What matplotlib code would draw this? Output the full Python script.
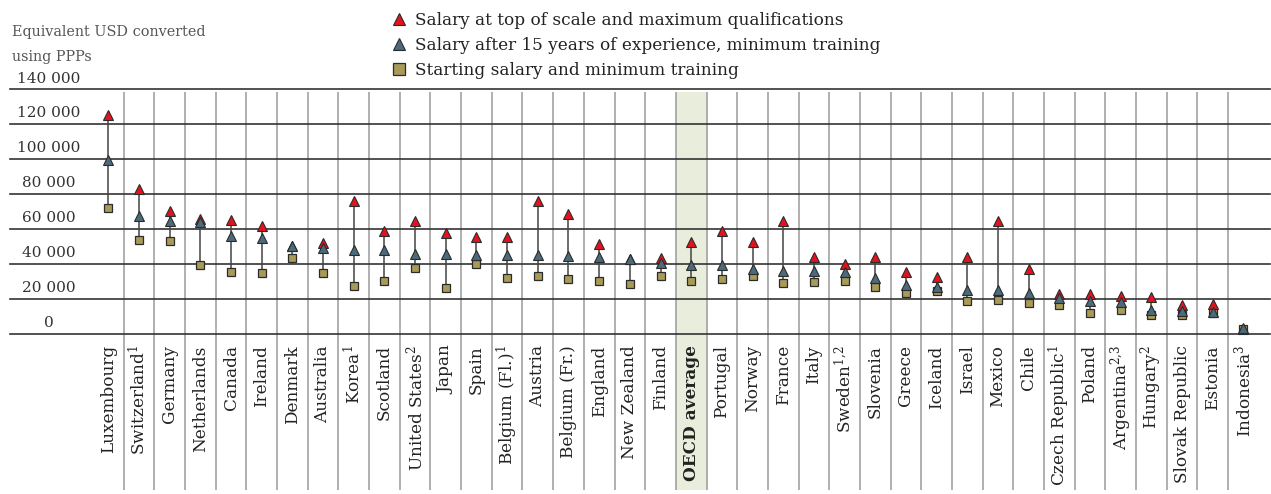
import matplotlib
matplotlib.use("Agg")
import matplotlib.pyplot as plt
from matplotlib.lines import Line2D
import numpy as np

plt.rcParams['font.family'] = ['DejaVu Serif']
plt.rcParams['mathtext.fontset'] = 'dejavuserif'

countries = ["Luxembourg", "Switzerland$^{1}$", "Germany", "Netherlands", "Canada", "Ireland",
             "Denmark", "Australia", "Korea$^{1}$", "Scotland", "United States$^{2}$", "Japan",
             "Spain", "Belgium (Fl.)$^{1}$", "Austria", "Belgium (Fr.)", "England", "New Zealand",
             "Finland", "OECD average", "Portugal", "Norway", "France", "Italy", "Sweden$^{1{,}2}$",
             "Slovenia", "Greece", "Iceland", "Israel", "Mexico", "Chile", "Czech Republic$^{1}$",
             "Poland", "Argentina$^{2{,}3}$", "Hungary$^{2}$", "Slovak Republic", "Estonia",
             "Indonesia$^{3}$"]

top_salary = [125300, 82700, 70200, 65800, 65000, 61800, 50000, 51900, 75900, 58600, 64500, 57400,
              55300, 55300, 75900, 68700, 51300, 43000, 43300, 52500, 58600, 52500, 64700, 43900,
              40100, 43900, 35100, 32500, 43700, 64300, 36900, 22600, 22700, 21800, 20900, 16400,
              16900, 2900]
exp15_salary = [99500, 67500, 64300, 63700, 56100, 54800, 50200, 49000, 47900, 47900, 45600, 45400,
                45200, 45000, 44900, 44300, 43900, 42700, 40700, 39500, 39100, 37200, 35700, 35700,
                35100, 31900, 28100, 26800, 24900, 24900, 23300, 20300, 18900, 18200, 13400, 13100,
                12500, 3000]
start_salary = [72000, 53400, 52900, 39100, 35500, 34600, 43500, 34800, 27500, 30200, 37600, 26200,
                39700, 32100, 33000, 31500, 30400, 28500, 33200, 30400, 31100, 33200, 28900, 29400,
                30400, 26800, 23000, 24300, 18900, 19500, 17800, 16600, 11900, 13600, 10600, 10700,
                11700, 2700]

yticks = [0, 20000, 40000, 60000, 80000, 100000, 120000, 140000]
ytick_labels = ["0", "20 000", "40 000", "60 000", "80 000", "100 000", "120 000", "140 000"]

y_title_lines = ["Equivalent USD converted", "using PPPs"]

legend_labels = ["Salary at top of scale and maximum qualifications",
                 "Salary after 15 years of experience, minimum training",
                 "Starting salary and minimum training"]

RED = "#e3131d"
BLUE = "#4b6a7c"
OLIVE = "#a89a58"
EDGE = "#2b2b2b"

W, H = 1271, 494
fig = plt.figure(figsize=(W / 100, H / 100), dpi=100)

ax_left, ax_right = 10, 1270
ax_top, ax_bottom = 89, 490
ax = fig.add_axes([ax_left / W, 1 - ax_bottom / H, (ax_right - ax_left) / W, (ax_bottom - ax_top) / H])

n = len(countries)
x = np.arange(n)
c0, step = 108.3, 30.68
ax.set_xlim((ax_left - c0) / step, (ax_right - c0) / step)
px_per_val = 35 / 20000
y_bottom = -(ax_bottom - 333.5) / px_per_val
ax.set_ylim(y_bottom, 140000)
ax.axis('off')

top_gap = 3.5 / px_per_val
vtop = 140000 - top_gap

oecd_idx = countries.index("OECD average")
ax.fill_between([oecd_idx - 0.5, oecd_idx + 0.5], y_bottom, vtop, color="#e9eedc", lw=0, zorder=0)

ax.vlines(x[:-1] + 0.5, y_bottom, vtop, color="#9a9a9a", lw=1.1, zorder=1)

for yt in yticks:
    ax.axhline(yt, color="#333333", lw=1.2, zorder=1, clip_on=False)

xlab = (49 - c0) / step
for yt, lab in zip(yticks, ytick_labels):
    ax.annotate(lab, (xlab, yt), xytext=(0, 2.5), textcoords="offset points",
                ha="center", va="bottom", fontsize=11, color="#333333", annotation_clip=False)

lo = np.minimum(np.minimum(top_salary, exp15_salary), start_salary)
hi = np.maximum(np.maximum(top_salary, exp15_salary), start_salary)
ax.vlines(x, lo, hi, color="#444444", lw=1.1, zorder=2)

ax.plot(x, start_salary, ls="none", marker="s", ms=6.4, mfc=OLIVE, mec=EDGE, mew=0.9, zorder=3)
ax.plot(x, top_salary, ls="none", marker="^", ms=7.6, mfc=RED, mec=EDGE, mew=0.8, zorder=4)
ax.plot(x, exp15_salary, ls="none", marker="^", ms=7.6, mfc=BLUE, mec=EDGE, mew=0.8, zorder=5)

lab_y = -(345 - 333.5) / px_per_val
for xi, name in zip(x, countries):
    bold = name == "OECD average"
    ax.text(xi, lab_y, name, rotation=90, ha="center", va="top", fontsize=12.2,
            color="#222222", fontweight="bold" if bold else "normal")

for line, ypx in zip(y_title_lines, [32, 57]):
    fig.text(12 / W, 1 - ypx / H, line, ha="left", va="center", fontsize=10.4, color="#555555")

handles = [Line2D([], [], ls="none", marker="^", ms=9, mfc=RED, mec=EDGE, mew=0.8),
           Line2D([], [], ls="none", marker="^", ms=9, mfc=BLUE, mec=EDGE, mew=0.8),
           Line2D([], [], ls="none", marker="s", ms=8, mfc=OLIVE, mec=EDGE, mew=0.9)]
fig.legend(handles, legend_labels, loc="upper left", bbox_to_anchor=(391 / W, 1 - 12 / H),
           frameon=False, fontsize=12.2, handlelength=0.9, handletextpad=0.5, labelspacing=0.48,
           borderaxespad=0, borderpad=0, labelcolor="#222222")

fig.savefig("out.png", dpi=100)
